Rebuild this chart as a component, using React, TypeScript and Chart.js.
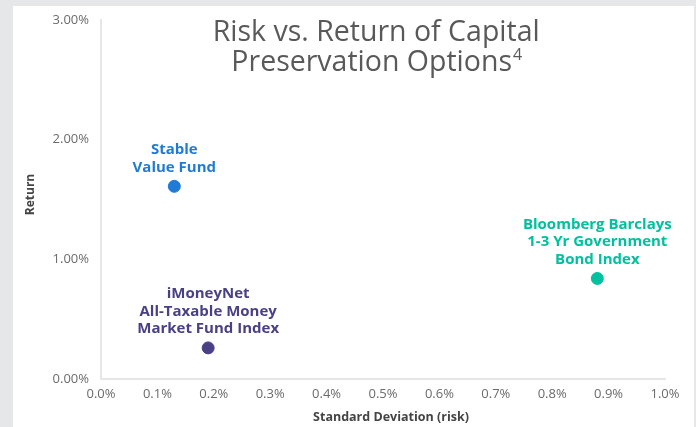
import React, { useEffect, useRef } from "react";
import { Chart, registerables } from "chart.js";

Chart.register(...registerables);

const seriesNames = [
  "Stable Value Fund",
  "iMoneyNet All-Taxable Money Market Fund Index",
  "Bloomberg Barclays 1-3 Yr Government Bond Index",
];
const labelLines = [
  ["Stable", "Value Fund"],
  ["iMoneyNet", "All-Taxable Money", "Market Fund Index"],
  ["Bloomberg Barclays", "1-3 Yr Government", "Bond Index"],
];
const riskValues = [0.13, 0.19, 0.88];
const returnValues = [1.61, 0.26, 0.84];
const seriesColors = ["#1f7bd6", "#4a4086", "#00c19d"];

const xTickMin = 0;
const xTickMax = 1.0;
const xTickStep = 0.1;
const yTickMin = 0;
const yTickMax = 3;
const yTickStep = 1;

const titleLine1 = "Risk vs. Return of Capital";
const titleLine2 = "Preservation Options";
const titleSup = "4";
const xAxisTitle = "Standard Deviation (risk)";
const yAxisTitle = "Return";

const FONT = "'Open Sans', 'Noto Sans', sans-serif";

const overlayPlugin = {
  id: "overlay",
  afterDatasetsDraw(chart: any) {
    const { ctx, chartArea } = chart;
    ctx.save();
    // title
    ctx.fillStyle = "#595959";
    ctx.textAlign = "center";
    ctx.textBaseline = "middle";
    ctx.font = `400 28.5px ${FONT}`;
    const cx = chartArea.left + chartArea.width * 0.488;
    ctx.fillText(titleLine1, cx, chartArea.top + 13);
    const w2 = ctx.measureText(titleLine2).width;
    ctx.font = `400 16px ${FONT}`;
    const ws = ctx.measureText(titleSup).width;
    const start = cx - (w2 + ws) / 2;
    ctx.textAlign = "left";
    ctx.font = `400 28.5px ${FONT}`;
    ctx.fillText(titleLine2, start, chartArea.top + 43);
    ctx.font = `400 16px ${FONT}`;
    ctx.fillText(titleSup, start + w2 + 1, chartArea.top + 35);

    // axis titles
    ctx.fillStyle = "#444444";
    ctx.textAlign = "center";
    ctx.font = `700 12.5px ${FONT}`;
    ctx.fillText(xAxisTitle, chartArea.left + chartArea.width / 2 + 8, chart.height - 10);
    ctx.save();
    ctx.translate(17.5, chartArea.top + chartArea.height / 2 - 5);
    ctx.rotate(-Math.PI / 2);
    ctx.font = `700 12px ${FONT}`;
    ctx.fillText(yAxisTitle, 0, 0);
    ctx.restore();

    // point labels
    ctx.textAlign = "center";
    ctx.font = `700 15px ${FONT}`;
    chart.data.datasets.forEach((ds: any, i: number) => {
      const meta = chart.getDatasetMeta(i);
      const el = meta.data[0];
      if (!el) return;
      const lines = labelLines[i];
      ctx.fillStyle = seriesColors[i];
      const n = lines.length;
      lines.forEach((ln: string, j: number) => {
        ctx.fillText(ln, el.x, el.y - 19 - (n - 1 - j) * 17.5);
      });
    });
    ctx.restore();
  },
};

export default function App() {
  const ref = useRef<HTMLCanvasElement | null>(null);
  useEffect(() => {
    if (!ref.current) return;
    const chart = new Chart(ref.current, {
      type: "scatter",
      data: {
        datasets: seriesNames.map((name, i) => ({
          label: name,
          data: [{ x: riskValues[i], y: returnValues[i] }],
          backgroundColor: seriesColors[i],
          borderColor: seriesColors[i],
          pointRadius: 6,
          pointHoverRadius: 6,
        })),
      },
      options: {
        animation: false,
        responsive: false,
        maintainAspectRatio: false,
        layout: { padding: { left: 0, right: 29, top: 14, bottom: 0 } },
        plugins: {
          legend: { display: false },
          tooltip: { enabled: false },
          title: { display: false },
        },
        scales: {
          x: {
            type: "linear",
            min: xTickMin,
            max: xTickMax,
            grid: { display: false, drawTicks: false },
            border: { display: true, color: "#e6e6e6", width: 2 },
            ticks: {
              stepSize: xTickStep,
              padding: 7,
              color: "#6b6b6b",
              font: { family: FONT, size: 13 },
              callback: (v: any) => Number(v).toFixed(1) + "%",
            },
            title: { display: false },
            afterFit: (s: any) => {
              s.height = 48;
              s.paddingLeft = 0;
              s.paddingRight = 0;
            },
          },
          y: {
            type: "linear",
            min: yTickMin,
            max: yTickMax,
            grid: { display: false, drawTicks: false },
            border: { display: true, color: "#e6e6e6", width: 2 },
            ticks: {
              stepSize: yTickStep,
              padding: 12,
              color: "#6b6b6b",
              font: { family: FONT, size: 13 },
              callback: (v: any) => Number(v).toFixed(2) + "%",
            },
            title: { display: false },
            afterFit: (s: any) => {
              s.width = 88;
              s.paddingTop = 0;
              s.paddingBottom = 0;
            },
          },
        },
      },
      plugins: [overlayPlugin],
    });
    return () => chart.destroy();
  }, []);

  return (
    <div
      style={{
        position: "fixed",
        left: 0,
        top: 0,
        width: 696,
        height: 427,
        background: "#e6e7e9",
      }}
    >
      <div
        style={{
          position: "absolute",
          left: 13,
          top: 6,
          width: 681,
          height: 421,
          background: "#ffffff",
        }}
      >
        <canvas ref={ref} width={681} height={421} style={{ display: "block" }} />
      </div>
    </div>
  );
}
